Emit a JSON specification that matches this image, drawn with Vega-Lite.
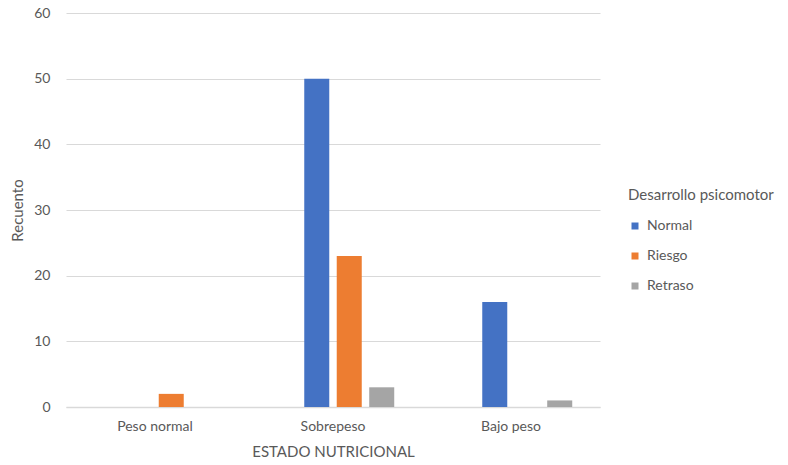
{
  "$schema": "https://vega.github.io/schema/vega-lite/v6.json",
  "width": 534,
  "height": 394,
  "autosize": {"type": "none"},
  "padding": {"left": 66, "top": 13, "right": 188, "bottom": 58},
  "background": "white",
  "config": {
    "font": "Lato",
    "view": {"stroke": null},
    "axis": {"labelColor": "#595959", "titleColor": "#595959", "labelFont": "Lato", "titleFont": "Lato", "titleFontWeight": "normal"},
    "legend": {"labelFont": "Lato", "titleFont": "Lato"}
  },
  "data": {
    "values": [
      {"estado": "Peso normal", "desarrollo": "Normal", "recuento": 0},
      {"estado": "Peso normal", "desarrollo": "Riesgo", "recuento": 2},
      {"estado": "Peso normal", "desarrollo": "Retraso", "recuento": 0},
      {"estado": "Sobrepeso", "desarrollo": "Normal", "recuento": 50},
      {"estado": "Sobrepeso", "desarrollo": "Riesgo", "recuento": 23},
      {"estado": "Sobrepeso", "desarrollo": "Retraso", "recuento": 3},
      {"estado": "Bajo peso", "desarrollo": "Normal", "recuento": 16},
      {"estado": "Bajo peso", "desarrollo": "Riesgo", "recuento": 0},
      {"estado": "Bajo peso", "desarrollo": "Retraso", "recuento": 1}
    ]
  },
  "mark": {"type": "bar"},
  "encoding": {
    "x": {
      "field": "estado",
      "type": "nominal",
      "sort": ["Peso normal", "Sobrepeso", "Bajo peso"],
      "scale": {"paddingInner": 0.312, "paddingOuter": 0.156},
      "axis": {
        "title": "ESTADO NUTRICIONAL",
        "titleFontSize": 15,
        "titlePadding": 11,
        "labelAngle": 0,
        "labelFontSize": 14,
        "labelPadding": 12,
        "ticks": false,
        "domainColor": "#d9d9d9",
        "domainWidth": 1.5
      }
    },
    "xOffset": {
      "field": "desarrollo",
      "type": "nominal",
      "scale": {"domain": [" ", "Normal", "Riesgo", "Retraso"], "paddingInner": 0.23, "paddingOuter": 0}
    },
    "y": {
      "field": "recuento",
      "type": "quantitative",
      "scale": {"domain": [0, 60]},
      "axis": {
        "title": "Recuento",
        "titleFontSize": 15,
        "titlePadding": 8,
        "values": [0, 10, 20, 30, 40, 50, 60],
        "labelFontSize": 14,
        "labelPadding": 16,
        "ticks": false,
        "domain": false,
        "gridColor": "#d9d9d9",
        "gridWidth": 1
      }
    },
    "color": {
      "field": "desarrollo",
      "type": "nominal",
      "scale": {"domain": ["Normal", "Riesgo", "Retraso"], "range": ["#4472C4", "#ED7D31", "#A5A5A5"]},
      "legend": {
        "title": "Desarrollo psicomotor",
        "orient": "none",
        "legendX": 562,
        "legendY": 175,
        "titleFontSize": 15,
        "titleFontWeight": "normal",
        "titleColor": "#595959",
        "titlePadding": 16,
        "labelFontSize": 14,
        "labelColor": "#595959",
        "labelOffset": 5,
        "symbolType": "square",
        "symbolSize": 49,
        "symbolStrokeWidth": 0,
        "rowPadding": 16
      }
    }
  }
}
